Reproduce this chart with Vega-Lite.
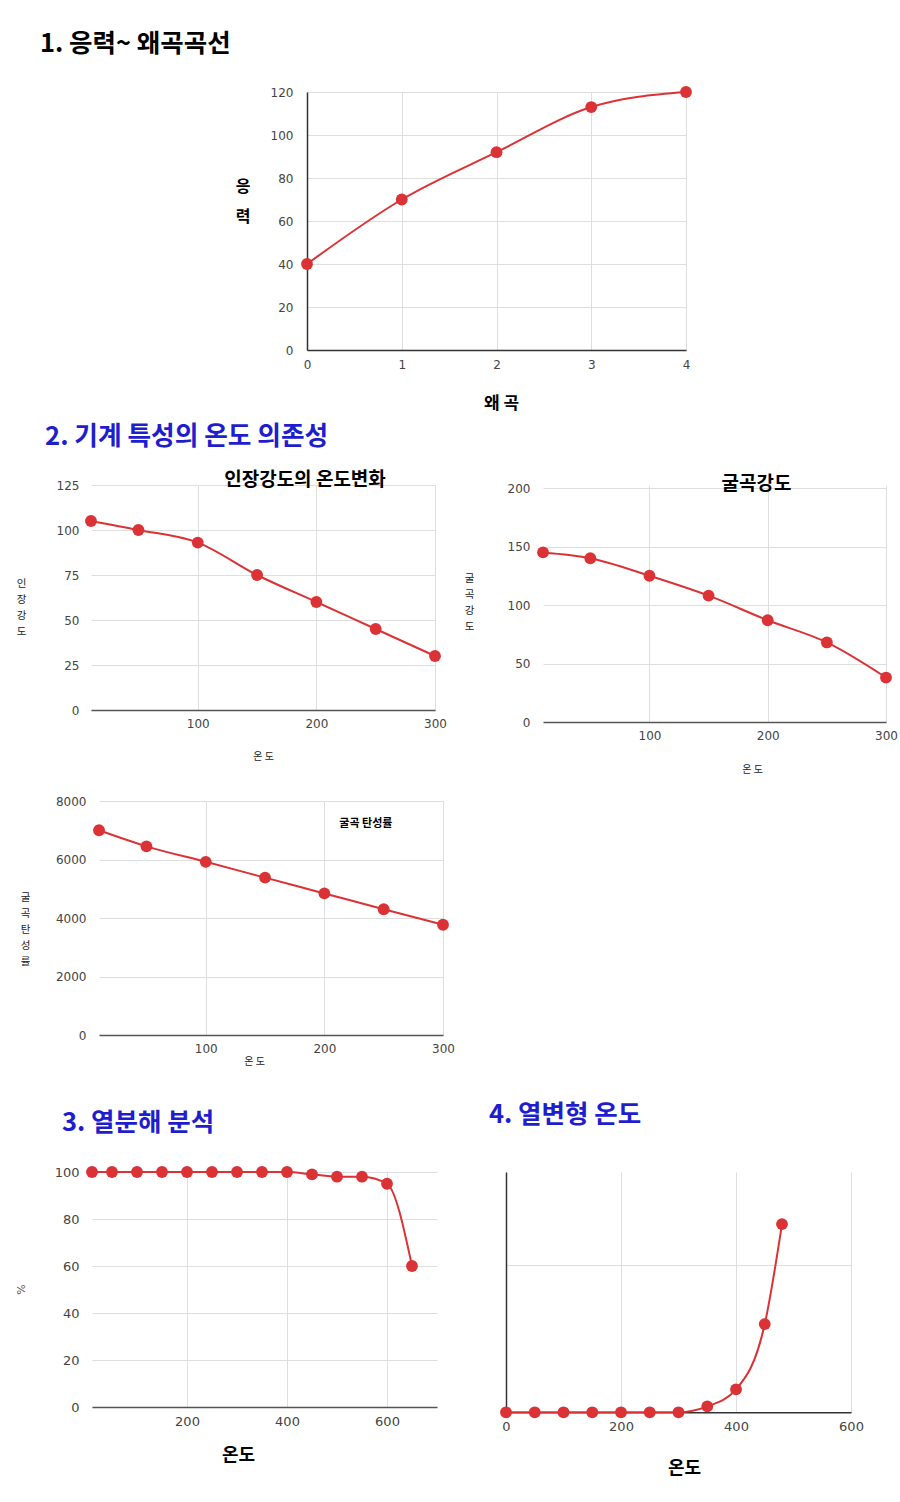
{
  "$schema": "https://vega.github.io/schema/vega-lite/v6.json",
  "padding": {"left": 0, "top": 32, "right": 0, "bottom": 0},
  "background": "white",
  "config": {
    "view": {"stroke": null},
    "font": "Noto Sans CJK KR",
    "concat": {"spacing": 0},
    "axis": {
      "labelFont": "DejaVu Sans",
      "labelFontSize": 12,
      "labelColor": "#444444",
      "ticks": false,
      "gridColor": "#dedede",
      "gridWidth": 1,
      "domainColor": "#555555",
      "domainWidth": 1.5,
      "titleFont": "Noto Sans CJK KR",
      "titleColor": "#222222",
      "titleFontWeight": "normal",
      "labelFlush": false,
      "labelOverlap": false
    },
    "title": {"font": "Noto Sans CJK KR", "fontWeight": "bold", "color": "#000000"}
  },
  "datasets": {
    "c1": [
      {"strain": 0, "stress": 40},
      {"strain": 1, "stress": 70},
      {"strain": 2, "stress": 92},
      {"strain": 3, "stress": 113},
      {"strain": 4, "stress": 120}
    ],
    "c2a": [
      {"temp": 10, "val": 105},
      {"temp": 50, "val": 100},
      {"temp": 100, "val": 93},
      {"temp": 150, "val": 75},
      {"temp": 200, "val": 60},
      {"temp": 250, "val": 45},
      {"temp": 300, "val": 30}
    ],
    "c2b": [
      {"temp": 10, "val": 145},
      {"temp": 50, "val": 140},
      {"temp": 100, "val": 125},
      {"temp": 150, "val": 108},
      {"temp": 200, "val": 87},
      {"temp": 250, "val": 68},
      {"temp": 300, "val": 38}
    ],
    "c2c": [
      {"temp": 10, "val": 7000},
      {"temp": 50, "val": 6450},
      {"temp": 100, "val": 5920},
      {"temp": 150, "val": 5380},
      {"temp": 200, "val": 4840},
      {"temp": 250, "val": 4300},
      {"temp": 300, "val": 3770}
    ],
    "c2cLabel": [
      {"temp": 235, "val": 7230, "label": "굴곡 탄성률"}
    ],
    "c3": [
      {"temp": 10, "val": 100},
      {"temp": 50, "val": 100},
      {"temp": 100, "val": 100},
      {"temp": 150, "val": 100},
      {"temp": 200, "val": 100},
      {"temp": 250, "val": 100},
      {"temp": 300, "val": 100},
      {"temp": 350, "val": 100},
      {"temp": 400, "val": 100},
      {"temp": 450, "val": 99},
      {"temp": 500, "val": 98},
      {"temp": 550, "val": 98},
      {"temp": 600, "val": 95},
      {"temp": 650, "val": 60}
    ],
    "c4": [
      {"temp": 0, "val": 0},
      {"temp": 50, "val": 0},
      {"temp": 100, "val": 0},
      {"temp": 150, "val": 0},
      {"temp": 200, "val": 0},
      {"temp": 250, "val": 0},
      {"temp": 300, "val": 0},
      {"temp": 350, "val": 2},
      {"temp": 400, "val": 7.8},
      {"temp": 450, "val": 30},
      {"temp": 480, "val": 64}
    ],
    "empty": []
  },
  "spacing": 0,
  "vconcat": [
    {
      "title": {"text": "1. 응력~ 왜곡곡선", "anchor": "start", "fontSize": 25.5, "dx": 40, "offset": 28.5, "color": "#000000"},
      "spacing": 0,
      "hconcat": [
        {"width": 235, "height": 1, "data": {"name": "empty"}, "mark": "point"},
        {
          "width": 379,
          "height": 258,
          "data": {"name": "c1"},
          "encoding": {
            "x": {
              "field": "strain", "type": "quantitative",
              "scale": {"domain": [0, 4], "nice": false},
              "axis": {"values": [0, 1, 2, 3, 4], "format": "d", "labelPadding": 9, "domainColor": "#333333",
                       "title": "왜 곡", "titleFontSize": 17, "titleFontWeight": "bold", "titleColor": "#000000",
                       "titleX": 194, "titleY": 53, "titleBaseline": "middle", "titleAlign": "center"}
            },
            "y": {
              "field": "stress", "type": "quantitative",
              "scale": {"domain": [0, 120], "nice": false},
              "axis": {"values": [0, 20, 40, 60, 80, 100, 120], "labelPadding": 14, "domainColor": "#333333",
                       "title": ["응", "력"], "titleAngle": 0, "titleFontSize": 16, "titleFontWeight": "bold",
                       "titleColor": "#000000", "titleLineHeight": 30, "titleAlign": "right", "titleBaseline": "middle",
                       "titleX": -57, "titleY": 94}
            }
          },
          "layer": [
            {"mark": {"type": "line", "interpolate": "monotone", "color": "#db3236", "strokeWidth": 2}},
            {"mark": {"type": "point", "filled": true, "size": 140, "color": "#db3236", "opacity": 1}}
          ]
        }
      ]
    },
    {"width": 1, "height": 13, "data": {"name": "empty"}, "mark": "point"},
    {
      "title": {"text": "2. 기계 특성의 온도 의존성", "anchor": "start", "fontSize": 25.7, "dx": 45, "offset": 20, "color": "#1e1ecf"},
      "spacing": 0,
      "hconcat": [
        {"width": 16, "height": 1, "data": {"name": "empty"}, "mark": "point"},
        {
          "width": 344,
          "height": 225,
          "data": {"name": "c2a"},
          "title": {"text": "인장강도의 온도변화", "anchor": "middle", "frame": "group", "fontSize": 19, "dx": 42, "offset": -11},
          "encoding": {
            "x": {
              "field": "temp", "type": "quantitative",
              "scale": {"domain": [10, 300], "nice": false, "zero": false},
              "axis": {"values": [100, 200, 300], "labelPadding": 8,
                       "title": "온 도", "titleFontSize": 10, "titleX": 172, "titleY": 46,
                       "titleBaseline": "middle", "titleAlign": "center"}
            },
            "y": {
              "field": "val", "type": "quantitative",
              "scale": {"domain": [0, 125], "nice": false},
              "axis": {"values": [0, 25, 50, 75, 100, 125], "labelPadding": 12, "domain": false,
                       "title": ["인", "장", "강", "도"], "titleAngle": 0, "titleFontSize": 10.5,
                       "titleLineHeight": 16, "titleAlign": "center", "titleBaseline": "middle",
                       "titleX": -70, "titleY": 98}
            }
          },
          "layer": [
            {"mark": {"type": "line", "interpolate": "monotone", "color": "#db3236", "strokeWidth": 2}},
            {"mark": {"type": "point", "filled": true, "size": 140, "color": "#db3236", "opacity": 1}}
          ]
        },
        {"width": 17, "height": 1, "data": {"name": "empty"}, "mark": "point"},
        {
          "width": 343,
          "height": 237,
          "data": {"name": "c2b"},
          "title": {"text": "굴곡강도", "anchor": "middle", "frame": "group", "fontSize": 19, "dx": 42, "offset": -12},
          "encoding": {
            "x": {
              "field": "temp", "type": "quantitative",
              "scale": {"domain": [10, 300], "nice": false, "zero": false},
              "axis": {"values": [100, 200, 300], "labelPadding": 8,
                       "title": "온 도", "titleFontSize": 10, "titleX": 209, "titleY": 47,
                       "titleBaseline": "middle", "titleAlign": "center"}
            },
            "y": {
              "field": "val", "type": "quantitative",
              "scale": {"domain": [0, 202.6], "nice": false},
              "axis": {"values": [0, 50, 100, 150, 200], "labelPadding": 13, "domain": false,
                       "title": ["굴", "곡", "강", "도"], "titleAngle": 0, "titleFontSize": 10.5,
                       "titleLineHeight": 16, "titleAlign": "center", "titleBaseline": "middle",
                       "titleX": -74, "titleY": 93}
            }
          },
          "layer": [
            {"mark": {"type": "line", "interpolate": "monotone", "color": "#db3236", "strokeWidth": 2}},
            {"mark": {"type": "point", "filled": true, "size": 140, "color": "#db3236", "opacity": 1}}
          ]
        }
      ]
    },
    {"width": 1, "height": 21, "data": {"name": "empty"}, "mark": "point"},
    {
      "spacing": 0,
      "hconcat": [
        {"width": 20, "height": 1, "data": {"name": "empty"}, "mark": "point"},
        {
          "width": 344,
          "height": 234,
          "encoding": {
            "x": {
              "field": "temp", "type": "quantitative",
              "scale": {"domain": [10, 300], "nice": false, "zero": false},
              "axis": {"values": [100, 200, 300], "labelPadding": 8,
                       "title": "온 도", "titleFontSize": 10, "titleX": 155, "titleY": 26,
                       "titleBaseline": "middle", "titleAlign": "center"}
            },
            "y": {
              "field": "val", "type": "quantitative",
              "scale": {"domain": [0, 8000], "nice": false},
              "axis": {"values": [0, 2000, 4000, 6000, 8000], "format": "d", "labelPadding": 13, "domain": false,
                       "title": ["굴", "곡", "탄", "성", "률"], "titleAngle": 0, "titleFontSize": 10.5,
                       "titleLineHeight": 16, "titleAlign": "center", "titleBaseline": "middle",
                       "titleX": -74, "titleY": 96}
            }
          },
          "layer": [
            {"data": {"name": "c2c"}, "mark": {"type": "line", "interpolate": "monotone", "color": "#db3236", "strokeWidth": 2}},
            {"data": {"name": "c2c"}, "mark": {"type": "point", "filled": true, "size": 140, "color": "#db3236", "opacity": 1}},
            {
              "data": {"name": "c2cLabel"},
              "mark": {"type": "text", "fontSize": 11, "fontWeight": "bold", "color": "#000000", "font": "Noto Sans CJK KR"},
              "encoding": {"text": {"field": "label"}}
            }
          ]
        }
      ]
    },
    {"width": 1, "height": 36, "data": {"name": "empty"}, "mark": "point"},
    {
      "spacing": 0,
      "hconcat": [
        {"width": 14.5, "height": 1, "data": {"name": "empty"}, "mark": "point"},
        {
          "width": 345,
          "height": 235,
          "data": {"name": "c3"},
          "title": {"text": "3. 열분해 분석", "anchor": "start", "frame": "group", "fontSize": 25.5, "dx": -30, "offset": 30, "color": "#1e1ecf"},
          "encoding": {
            "x": {
              "field": "temp", "type": "quantitative",
              "scale": {"domain": [10, 700], "nice": false, "zero": false},
              "axis": {"values": [200, 400, 600], "labelPadding": 8, "labelFontSize": 13,
                       "title": "온도", "titleFontSize": 18, "titleFontWeight": "bold", "titleColor": "#000000",
                       "titleX": 146, "titleY": 48, "titleBaseline": "middle", "titleAlign": "center"}
            },
            "y": {
              "field": "val", "type": "quantitative",
              "scale": {"domain": [0, 100], "nice": false},
              "axis": {"values": [0, 20, 40, 60, 80, 100], "labelPadding": 13, "labelFontSize": 13, "domain": false,
                       "title": "%", "titleFontSize": 11, "titleColor": "#555555", "titleFont": "DejaVu Sans",
                       "titleX": -71, "titleY": 117, "titleAlign": "center", "titleBaseline": "middle"}
            }
          },
          "layer": [
            {"mark": {"type": "line", "interpolate": "monotone", "color": "#db3236", "strokeWidth": 2}},
            {"mark": {"type": "point", "filled": true, "size": 140, "color": "#db3236", "opacity": 1}}
          ]
        },
        {"width": 52, "height": 1, "data": {"name": "empty"}, "mark": "point"},
        {
          "width": 345,
          "height": 240.3,
          "data": {"name": "c4"},
          "title": {"text": "4. 열변형 온도", "anchor": "start", "frame": "group", "fontSize": 25.5, "dx": -17, "offset": 44, "color": "#1e1ecf"},
          "encoding": {
            "x": {
              "field": "temp", "type": "quantitative",
              "scale": {"domain": [0, 600], "nice": false},
              "axis": {"values": [0, 200, 400, 600], "labelPadding": 8, "labelFontSize": 13, "domainColor": "#333333",
                       "title": "온도", "titleFontSize": 18, "titleFontWeight": "bold", "titleColor": "#000000",
                       "titleX": 178, "titleY": 56, "titleBaseline": "middle", "titleAlign": "center"}
            },
            "y": {
              "field": "val", "type": "quantitative",
              "scale": {"domain": [0, 81.7], "nice": false},
              "axis": {"values": [50], "labels": false, "domainColor": "#333333", "title": null}
            }
          },
          "layer": [
            {"mark": {"type": "line", "interpolate": "monotone", "color": "#db3236", "strokeWidth": 2}},
            {"mark": {"type": "point", "filled": true, "size": 140, "color": "#db3236", "opacity": 1}}
          ]
        }
      ]
    }
  ]
}
